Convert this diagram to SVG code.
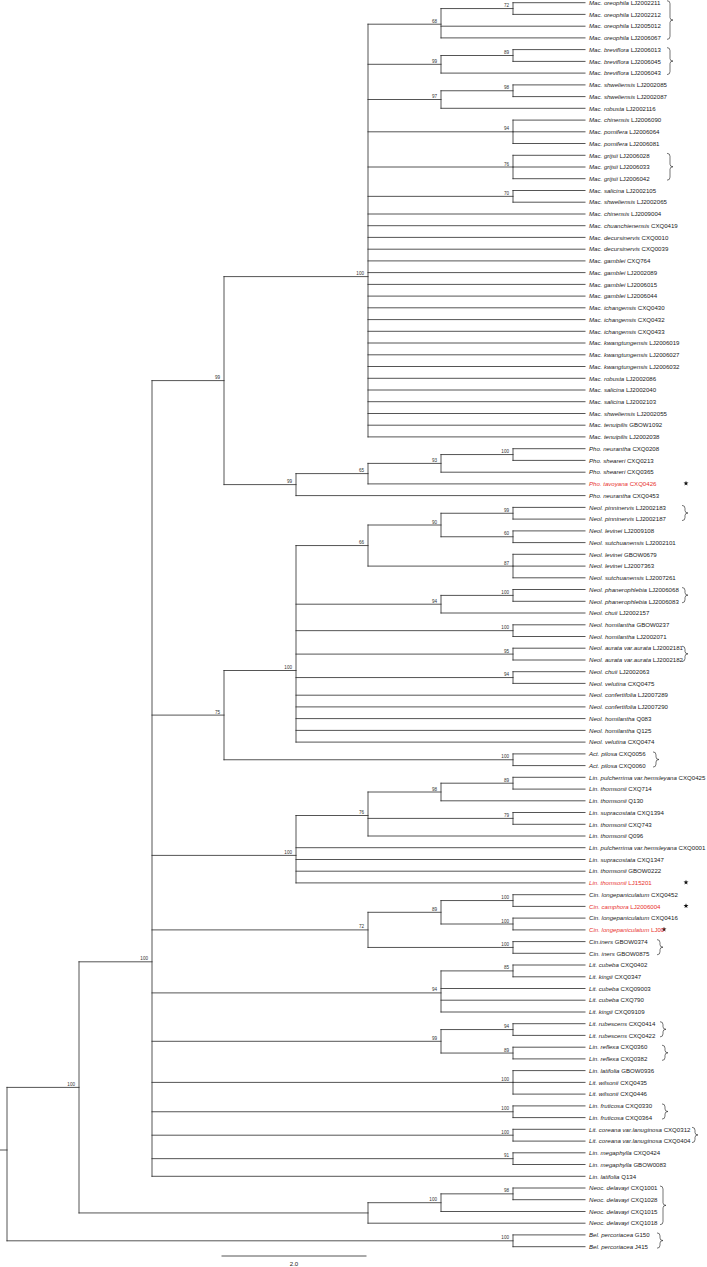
<svg xmlns="http://www.w3.org/2000/svg" xmlns:xlink="http://www.w3.org/1999/xlink" width="707" height="1267" viewBox="0 0 707 1267">
<style>
.br{fill:none;stroke:#2a2a2a;stroke-width:0.8;stroke-linecap:square}
text{font-family:"Liberation Sans",Arial,sans-serif}
.t{font-size:6.1px;fill:#1a1a1a}
.r{fill:#e8312c}
.i{font-style:italic}
.bs{font-size:4.6px;fill:#333;text-anchor:end}
.bk{fill:none;stroke:#1a1a1a;stroke-width:0.6}
.st{fill:#111}
</style>
<defs>
<polygon id="star" points="0,-2.6 0.617,-0.849 2.473,-0.803 0.999,0.324 1.528,2.103 0,1.05 -1.528,2.103 -0.999,0.324 -2.473,-0.803 -0.617,-0.849"/>
</defs>
<rect width="707" height="1267" fill="#fff"/>
<g id="connectors" class="br">
<path d="M513 2.7V14.4M513 2.7H585M513 14.4H585M441 8.55V37.9M441 8.55H513M441 26.2H585M441 37.9H585M513 49.6V61.4M513 49.6H585M513 61.4H585M441 55.5V73.1M441 55.5H513M441 73.1H585M513 84.9V96.6M513 84.9H585M513 96.6H585M441 90.75V108.3M441 90.75H513M441 108.3H585M513 120.1V143.5M513 120.1H585M513 131.8H585M513 143.5H585M513 155.3V178.7M513 155.3H585M513 167H585M513 178.7H585M513 190.5V202.2M513 190.5H585M513 202.2H585"/>
<path d="M368 24.2V436.9M368 24.2H441M368 64.3H441M368 99.5H441M368 131.8H513M368 167H513M368 196.35H513M368 214H585M368 225.7H585M368 237.4H585M368 249.2H585M368 260.9H585M368 272.6H585M368 284.4H585M368 296.1H585M368 307.8H585M368 319.6H585M368 331.3H585M368 343H585M368 354.8H585M368 366.5H585M368 378.3H585M368 390H585M368 401.7H585M368 413.5H585M368 425.2H585M368 436.9H585"/>
<path d="M513 448.7V460.4M513 448.7H585M513 460.4H585M441 454.55V472.2M441 454.55H513M441 472.2H585M368 463.4V483.9M368 463.4H441M368 483.9H585M296 473.6V495.6M296 473.6H368M296 495.6H585M224 276.6V484.6M224 276.6H368M224 484.6H296"/>
<path d="M513 507.4V519.1M513 507.4H585M513 519.1H585M513 530.9V542.6M513 530.9H585M513 542.6H585M441 513.25V536.75M441 513.25H513M441 536.75H513M513 554.3V577.8M513 554.3H585M513 566.1H585M513 577.8H585M368 525V566.1M368 525H441M368 566.1H513M513 589.5V601.3M513 589.5H585M513 601.3H585M441 595.4V613M441 595.4H513M441 613H585M513 624.8V636.5M513 624.8H585M513 636.5H585M513 648.2V660M513 648.2H585M513 660H585M513 671.7V683.4M513 671.7H585M513 683.4H585"/>
<path d="M296 545.55V742.1M296 545.55H368M296 604.2H441M296 630.65H513M296 654.1H513M296 677.55H513M296 695.2H585M296 706.9H585M296 718.6H585M296 730.4H585M296 742.1H585M513 753.9V765.6M513 753.9H585M513 765.6H585M224 670.5V759.75M224 670.5H296M224 759.75H513"/>
<path d="M513 777.3V789.1M513 777.3H585M513 789.1H585M441 783.2V800.8M441 783.2H513M441 800.8H585M513 812.5V824.3M513 812.5H585M513 824.3H585M368 792V836M368 792H441M368 818.4H513M368 836H585M296 815.5V882.9M296 815.5H368M296 847.7H585M296 859.5H585M296 871.2H585M296 882.9H585"/>
<path d="M513 894.7V906.4M513 894.7H585M513 906.4H585M513 918.1V929.9M513 918.1H585M513 929.9H585M441 900.55V924M441 900.55H513M441 924H513M513 941.6V953.3M513 941.6H585M513 953.3H585M368 912.3V947.45M368 912.3H441M368 947.45H513"/>
<path d="M513 965V976.8M513 965H585M513 976.8H585M441 970.9V1012M441 970.9H513M441 988.5H585M441 1000.2H585M441 1012H585M513 1023.7V1035.4M513 1023.7H585M513 1035.4H585M513 1047.2V1058.9M513 1047.2H585M513 1058.9H585M441 1029.55V1053.05M441 1029.55H513M441 1053.05H513M513 1070.6V1094.1M513 1070.6H585M513 1082.4H585M513 1094.1H585M513 1105.9V1117.6M513 1105.9H585M513 1117.6H585M513 1129.3V1141.1M513 1129.3H585M513 1141.1H585M513 1152.8V1164.5M513 1152.8H585M513 1164.5H585"/>
<path d="M152 380.6V1176.3M152 380.6H224M152 715.1H224M152 855.4H296M152 929.9H368M152 992.9H441M152 1041.3H441M152 1082.4H513M152 1111.75H513M152 1135.2H513M152 1158.65H513M152 1176.3H585"/>
<path d="M513 1188V1199.7M513 1188H585M513 1199.7H585M441 1193.85V1211.5M441 1193.85H513M441 1211.5H585M368 1202.7V1223.2M368 1202.7H441M368 1223.2H585M79 961.8V1212.95M79 961.8H152M79 1212.95H368M513 1234.9V1246.7M513 1234.9H585M513 1246.7H585M7 1087.4V1240.8M7 1087.4H79M7 1240.8H513M0 1150H7"/>
</g>
<g id="brackets" class="bk">
<path d="M667 0.7q3 0 3 3V17.55q0 2.5 3 2.5q-3 0-3 2.5V36.4q0 3-3 3"/>
<path d="M667 47.6q3 0 3 3V58.6q0 2.5 3 2.5q-3 0-3 2.5V71.6q0 3-3 3"/>
<path d="M667 153.3q3 0 3 3V164.25q0 2.5 3 2.5q-3 0-3 2.5V177.2q0 3-3 3"/>
<path d="M682 505.4q3 0 3 3V510.5q0 2.5 3 2.5q-3 0-3 2.5V517.6q0 3-3 3"/>
<path d="M682 587.5q3 0 3 3V592.65q0 2.5 3 2.5q-3 0-3 2.5V599.8q0 3-3 3"/>
<path d="M682 646.2q3 0 3 3V651.35q0 2.5 3 2.5q-3 0-3 2.5V658.5q0 3-3 3"/>
<path d="M653 751.9q3 0 3 3V757q0 2.5 3 2.5q-3 0-3 2.5V764.1q0 3-3 3"/>
<path d="M657 939.6q3 0 3 3V944.7q0 2.5 3 2.5q-3 0-3 2.5V951.8q0 3-3 3"/>
<path d="M660 1021.7q3 0 3 3V1026.8q0 2.5 3 2.5q-3 0-3 2.5V1033.9q0 3-3 3"/>
<path d="M662 1045.2q3 0 3 3V1050.3q0 2.5 3 2.5q-3 0-3 2.5V1057.4q0 3-3 3"/>
<path d="M662 1103.9q3 0 3 3V1109q0 2.5 3 2.5q-3 0-3 2.5V1116.1q0 3-3 3"/>
<path d="M692 1127.3q3 0 3 3V1132.45q0 2.5 3 2.5q-3 0-3 2.5V1139.6q0 3-3 3"/>
<path d="M660 1186q3 0 3 3V1202.85q0 2.5 3 2.5q-3 0-3 2.5V1221.7q0 3-3 3"/>
<path d="M657 1232.9q3 0 3 3V1238.05q0 2.5 3 2.5q-3 0-3 2.5V1245.2q0 3-3 3"/>
</g>
<g id="stars" class="st">
<use xlink:href="#star" href="#star" x="686" y="483.4"/>
<use xlink:href="#star" href="#star" x="686" y="882.4"/>
<use xlink:href="#star" href="#star" x="686" y="905.9"/>
<use xlink:href="#star" href="#star" x="664" y="929.4"/>
</g>
<g id="support">
<g id="n01"><text class="bs" x="509" y="7.05">72</text></g>
<g id="n02"><text class="bs" x="437" y="22.7">68</text></g>
<g id="n03"><text class="bs" x="509" y="54">89</text></g>
<g id="n04"><text class="bs" x="437" y="62.8">99</text></g>
<g id="n05"><text class="bs" x="509" y="89.25">98</text></g>
<g id="n06"><text class="bs" x="437" y="98">97</text></g>
<g id="n07"><text class="bs" x="509" y="130.3">94</text></g>
<g id="n08"><text class="bs" x="509" y="165.5">76</text></g>
<g id="n09"><text class="bs" x="509" y="194.85">70</text></g>
<g id="n10"><text class="bs" x="364" y="275.1">100</text></g>
<g id="n11"><text class="bs" x="509" y="453.05">100</text></g>
<g id="n12"><text class="bs" x="437" y="461.9">93</text></g>
<g id="n13"><text class="bs" x="364" y="472.1">65</text></g>
<g id="n14"><text class="bs" x="292" y="483.1">99</text></g>
<g id="n15"><text class="bs" x="220" y="379.1">99</text></g>
<g id="n16"><text class="bs" x="509" y="511.75">99</text></g>
<g id="n17"><text class="bs" x="509" y="535.25">60</text></g>
<g id="n18"><text class="bs" x="437" y="523.5">90</text></g>
<g id="n19"><text class="bs" x="509" y="564.6">87</text></g>
<g id="n20"><text class="bs" x="364" y="544.05">66</text></g>
<g id="n21"><text class="bs" x="509" y="593.9">100</text></g>
<g id="n22"><text class="bs" x="437" y="602.7">94</text></g>
<g id="n23"><text class="bs" x="509" y="629.15">100</text></g>
<g id="n24"><text class="bs" x="509" y="652.6">95</text></g>
<g id="n25"><text class="bs" x="509" y="676.05">94</text></g>
<g id="n26"><text class="bs" x="292" y="669">100</text></g>
<g id="n27"><text class="bs" x="509" y="758.25">100</text></g>
<g id="n28"><text class="bs" x="220" y="713.6">75</text></g>
<g id="n29"><text class="bs" x="509" y="781.7">89</text></g>
<g id="n30"><text class="bs" x="437" y="790.5">98</text></g>
<g id="n31"><text class="bs" x="509" y="816.9">79</text></g>
<g id="n32"><text class="bs" x="364" y="814">76</text></g>
<g id="n33"><text class="bs" x="292" y="853.9">100</text></g>
<g id="n34"><text class="bs" x="509" y="899.05">100</text></g>
<g id="n35"><text class="bs" x="509" y="922.5">100</text></g>
<g id="n36"><text class="bs" x="437" y="910.8">89</text></g>
<g id="n37"><text class="bs" x="509" y="945.95">100</text></g>
<g id="n38"><text class="bs" x="364" y="928.4">72</text></g>
<g id="n39"><text class="bs" x="509" y="969.4">85</text></g>
<g id="n40"><text class="bs" x="437" y="991.4">94</text></g>
<g id="n41"><text class="bs" x="509" y="1028.05">94</text></g>
<g id="n42"><text class="bs" x="509" y="1051.55">89</text></g>
<g id="n43"><text class="bs" x="437" y="1039.8">99</text></g>
<g id="n44"><text class="bs" x="509" y="1080.9">100</text></g>
<g id="n45"><text class="bs" x="509" y="1110.25">100</text></g>
<g id="n46"><text class="bs" x="509" y="1133.7">100</text></g>
<g id="n47"><text class="bs" x="509" y="1157.15">91</text></g>
<g id="n48"><text class="bs" x="148" y="960.3">100</text></g>
<g id="n49"><text class="bs" x="509" y="1192.35">98</text></g>
<g id="n50"><text class="bs" x="437" y="1201.2">100</text></g>
<g id="n51"><text class="bs" x="75" y="1085.9">100</text></g>
<g id="n52"><text class="bs" x="509" y="1239.3">100</text></g>
</g>
<g id="tips">
<g id="t001"><text class="t" x="589" y="4.9"><tspan class="i">Mac. oreophila</tspan> LJ2002211</text></g>
<g id="t002"><text class="t" x="589" y="16.6"><tspan class="i">Mac. oreophila</tspan> LJ2002212</text></g>
<g id="t003"><text class="t" x="589" y="28.4"><tspan class="i">Mac. oreophila</tspan> LJ2005012</text></g>
<g id="t004"><text class="t" x="589" y="40.1"><tspan class="i">Mac. oreophila</tspan> LJ2006067</text></g>
<g id="t005"><text class="t" x="589" y="51.8"><tspan class="i">Mac. breviflora</tspan> LJ2006013</text></g>
<g id="t006"><text class="t" x="589" y="63.6"><tspan class="i">Mac. breviflora</tspan> LJ2006045</text></g>
<g id="t007"><text class="t" x="589" y="75.3"><tspan class="i">Mac. breviflora</tspan> LJ2006043</text></g>
<g id="t008"><text class="t" x="589" y="87.1"><tspan class="i">Mac. shweliensis</tspan> LJ2002085</text></g>
<g id="t009"><text class="t" x="589" y="98.8"><tspan class="i">Mac. shweliensis</tspan> LJ2002087</text></g>
<g id="t010"><text class="t" x="589" y="110.5"><tspan class="i">Mac. robusta</tspan> LJ2002116</text></g>
<g id="t011"><text class="t" x="589" y="122.3"><tspan class="i">Mac. chinensis</tspan> LJ2006090</text></g>
<g id="t012"><text class="t" x="589" y="134"><tspan class="i">Mac. pomifera</tspan> LJ2006064</text></g>
<g id="t013"><text class="t" x="589" y="145.7"><tspan class="i">Mac. pomifera</tspan> LJ2006081</text></g>
<g id="t014"><text class="t" x="589" y="157.5"><tspan class="i">Mac. grijsii</tspan> LJ2006028</text></g>
<g id="t015"><text class="t" x="589" y="169.2"><tspan class="i">Mac. grijsii</tspan> LJ2006033</text></g>
<g id="t016"><text class="t" x="589" y="180.9"><tspan class="i">Mac. grijsii</tspan> LJ2006042</text></g>
<g id="t017"><text class="t" x="589" y="192.7"><tspan class="i">Mac. salicina</tspan> LJ2002105</text></g>
<g id="t018"><text class="t" x="589" y="204.4"><tspan class="i">Mac. shweliensis</tspan> LJ2002065</text></g>
<g id="t019"><text class="t" x="589" y="216.2"><tspan class="i">Mac. chinensis</tspan> LJ2009004</text></g>
<g id="t020"><text class="t" x="589" y="227.9"><tspan class="i">Mac. chuanchienensis</tspan> CXQ0419</text></g>
<g id="t021"><text class="t" x="589" y="239.6"><tspan class="i">Mac. decursinervis</tspan> CXQ0010</text></g>
<g id="t022"><text class="t" x="589" y="251.4"><tspan class="i">Mac. decursinervis</tspan> CXQ0039</text></g>
<g id="t023"><text class="t" x="589" y="263.1"><tspan class="i">Mac. gamblei</tspan> CXQ764</text></g>
<g id="t024"><text class="t" x="589" y="274.8"><tspan class="i">Mac. gamblei</tspan> LJ2002089</text></g>
<g id="t025"><text class="t" x="589" y="286.6"><tspan class="i">Mac. gamblei</tspan> LJ2006015</text></g>
<g id="t026"><text class="t" x="589" y="298.3"><tspan class="i">Mac. gamblei</tspan> LJ2006044</text></g>
<g id="t027"><text class="t" x="589" y="310"><tspan class="i">Mac. ichangensis</tspan> CXQ0430</text></g>
<g id="t028"><text class="t" x="589" y="321.8"><tspan class="i">Mac. ichangensis</tspan> CXQ0432</text></g>
<g id="t029"><text class="t" x="589" y="333.5"><tspan class="i">Mac. ichangensis</tspan> CXQ0433</text></g>
<g id="t030"><text class="t" x="589" y="345.2"><tspan class="i">Mac. kwangtungensis</tspan> LJ2006019</text></g>
<g id="t031"><text class="t" x="589" y="357"><tspan class="i">Mac. kwangtungensis</tspan> LJ2006027</text></g>
<g id="t032"><text class="t" x="589" y="368.7"><tspan class="i">Mac. kwangtungensis</tspan> LJ2006032</text></g>
<g id="t033"><text class="t" x="589" y="380.5"><tspan class="i">Mac. robusta</tspan> LJ2002086</text></g>
<g id="t034"><text class="t" x="589" y="392.2"><tspan class="i">Mac. salicina</tspan> LJ2002040</text></g>
<g id="t035"><text class="t" x="589" y="403.9"><tspan class="i">Mac. salicina</tspan> LJ2002103</text></g>
<g id="t036"><text class="t" x="589" y="415.7"><tspan class="i">Mac. shweliensis</tspan> LJ2002055</text></g>
<g id="t037"><text class="t" x="589" y="427.4"><tspan class="i">Mac. tenuipilis</tspan> GBOW1092</text></g>
<g id="t038"><text class="t" x="589" y="439.1"><tspan class="i">Mac. tenuipilis</tspan> LJ2002038</text></g>
<g id="t039"><text class="t" x="589" y="450.9"><tspan class="i">Pho. neurantha</tspan> CXQ0208</text></g>
<g id="t040"><text class="t" x="589" y="462.6"><tspan class="i">Pho. sheareri</tspan> CXQ0213</text></g>
<g id="t041"><text class="t" x="589" y="474.4"><tspan class="i">Pho. sheareri</tspan> CXQ0365</text></g>
<g id="t042"><text class="t r" x="589" y="486.1"><tspan class="i">Pho. tavoyana</tspan> CXQ0426</text></g>
<g id="t043"><text class="t" x="589" y="497.8"><tspan class="i">Pho. neurantha</tspan> CXQ0453</text></g>
<g id="t044"><text class="t" x="589" y="509.6"><tspan class="i">Neol. pinninervis</tspan> LJ2002183</text></g>
<g id="t045"><text class="t" x="589" y="521.3"><tspan class="i">Neol. pinninervis</tspan> LJ2002187</text></g>
<g id="t046"><text class="t" x="589" y="533.1"><tspan class="i">Neol. levinei</tspan> LJ2009108</text></g>
<g id="t047"><text class="t" x="589" y="544.8"><tspan class="i">Neol. sutchuanensis</tspan> LJ2002101</text></g>
<g id="t048"><text class="t" x="589" y="556.5"><tspan class="i">Neol. levinei</tspan> GBOW0679</text></g>
<g id="t049"><text class="t" x="589" y="568.3"><tspan class="i">Neol. levinei</tspan> LJ2007363</text></g>
<g id="t050"><text class="t" x="589" y="580"><tspan class="i">Neol. sutchuanensis</tspan> LJ2007261</text></g>
<g id="t051"><text class="t" x="589" y="591.7"><tspan class="i">Neol. phanerophlebia</tspan> LJ2006068</text></g>
<g id="t052"><text class="t" x="589" y="603.5"><tspan class="i">Neol. phanerophlebia</tspan> LJ2006083</text></g>
<g id="t053"><text class="t" x="589" y="615.2"><tspan class="i">Neol. chuii</tspan> LJ2002157</text></g>
<g id="t054"><text class="t" x="589" y="627"><tspan class="i">Neol. homilantha</tspan> GBOW0237</text></g>
<g id="t055"><text class="t" x="589" y="638.7"><tspan class="i">Neol. homilantha</tspan> LJ2002071</text></g>
<g id="t056"><text class="t" x="589" y="650.4"><tspan class="i">Neol. aurata var.aurata</tspan> LJ2002181</text></g>
<g id="t057"><text class="t" x="589" y="662.2"><tspan class="i">Neol. aurata var.aurata</tspan> LJ2002182</text></g>
<g id="t058"><text class="t" x="589" y="673.9"><tspan class="i">Neol. chuii</tspan> LJ2002063</text></g>
<g id="t059"><text class="t" x="589" y="685.6"><tspan class="i">Neol. velutina</tspan> CXQ0475</text></g>
<g id="t060"><text class="t" x="589" y="697.4"><tspan class="i">Neol. confertifolia</tspan> LJ2007289</text></g>
<g id="t061"><text class="t" x="589" y="709.1"><tspan class="i">Neol. confertifolia</tspan> LJ2007290</text></g>
<g id="t062"><text class="t" x="589" y="720.8"><tspan class="i">Neol. homilantha</tspan> Q083</text></g>
<g id="t063"><text class="t" x="589" y="732.6"><tspan class="i">Neol. homilantha</tspan> Q125</text></g>
<g id="t064"><text class="t" x="589" y="744.3"><tspan class="i">Neol. velutina</tspan> CXQ0474</text></g>
<g id="t065"><text class="t" x="589" y="756.1"><tspan class="i">Act. pilosa</tspan> CXQ0056</text></g>
<g id="t066"><text class="t" x="589" y="767.8"><tspan class="i">Act. pilosa</tspan> CXQ0060</text></g>
<g id="t067"><text class="t" x="589" y="779.5"><tspan class="i">Lin. pulcherrima var.hemsleyana</tspan> CXQ0425</text></g>
<g id="t068"><text class="t" x="589" y="791.3"><tspan class="i">Lin. thomsonii</tspan> CXQ714</text></g>
<g id="t069"><text class="t" x="589" y="803"><tspan class="i">Lin. thomsonii</tspan> Q130</text></g>
<g id="t070"><text class="t" x="589" y="814.7"><tspan class="i">Lin. supracostata</tspan> CXQ1394</text></g>
<g id="t071"><text class="t" x="589" y="826.5"><tspan class="i">Lin. thomsonii</tspan> CXQ743</text></g>
<g id="t072"><text class="t" x="589" y="838.2"><tspan class="i">Lin. thomsonii</tspan> Q096</text></g>
<g id="t073"><text class="t" x="589" y="849.9"><tspan class="i">Lin. pulcherrima var.hemsleyana</tspan> CXQ0001</text></g>
<g id="t074"><text class="t" x="589" y="861.7"><tspan class="i">Lin. supracostata</tspan> CXQ1347</text></g>
<g id="t075"><text class="t" x="589" y="873.4"><tspan class="i">Lin. thomsonii</tspan> GBOW0222</text></g>
<g id="t076"><text class="t r" x="589" y="885.1"><tspan class="i">Lin. thomsonii</tspan> LJ15201</text></g>
<g id="t077"><text class="t" x="589" y="896.9"><tspan class="i">Cin. longepaniculatum</tspan> CXQ0452</text></g>
<g id="t078"><text class="t r" x="589" y="908.6"><tspan class="i">Cin. camphora</tspan> LJ2006004</text></g>
<g id="t079"><text class="t" x="589" y="920.3"><tspan class="i">Cin. longepaniculatum</tspan> CXQ0416</text></g>
<g id="t080"><text class="t r" x="589" y="932.1"><tspan class="i">Cin. longepaniculatum</tspan> LJ00</text></g>
<g id="t081"><text class="t" x="589" y="943.8"><tspan class="i">Cin.iners</tspan> GBOW0374</text></g>
<g id="t082"><text class="t" x="589" y="955.5"><tspan class="i">Cin. iners</tspan> GBOW0875</text></g>
<g id="t083"><text class="t" x="589" y="967.2"><tspan class="i">Lit. cubeba</tspan> CXQ0402</text></g>
<g id="t084"><text class="t" x="589" y="979"><tspan class="i">Lit. kingii</tspan> CXQ0347</text></g>
<g id="t085"><text class="t" x="589" y="990.7"><tspan class="i">Lit. cubeba</tspan> CXQ09003</text></g>
<g id="t086"><text class="t" x="589" y="1002.4"><tspan class="i">Lit. cubeba</tspan> CXQ790</text></g>
<g id="t087"><text class="t" x="589" y="1014.2"><tspan class="i">Lit. kingii</tspan> CXQ09109</text></g>
<g id="t088"><text class="t" x="589" y="1025.9"><tspan class="i">Lit. rubescens</tspan> CXQ0414</text></g>
<g id="t089"><text class="t" x="589" y="1037.6"><tspan class="i">Lit. rubescens</tspan> CXQ0422</text></g>
<g id="t090"><text class="t" x="589" y="1049.4"><tspan class="i">Lin. reflexa</tspan> CXQ0360</text></g>
<g id="t091"><text class="t" x="589" y="1061.1"><tspan class="i">Lin. reflexa</tspan> CXQ0382</text></g>
<g id="t092"><text class="t" x="589" y="1072.8"><tspan class="i">Lin. latifolia</tspan> GBOW0936</text></g>
<g id="t093"><text class="t" x="589" y="1084.6"><tspan class="i">Lit. wilsonii</tspan> CXQ0435</text></g>
<g id="t094"><text class="t" x="589" y="1096.3"><tspan class="i">Lit. wilsonii</tspan> CXQ0446</text></g>
<g id="t095"><text class="t" x="589" y="1108.1"><tspan class="i">Lin. fruticosa</tspan> CXQ0330</text></g>
<g id="t096"><text class="t" x="589" y="1119.8"><tspan class="i">Lin. fruticosa</tspan> CXQ0364</text></g>
<g id="t097"><text class="t" x="589" y="1131.5"><tspan class="i">Lit. coreana var.lanuginosa</tspan> CXQ0312</text></g>
<g id="t098"><text class="t" x="589" y="1143.3"><tspan class="i">Lit. coreana var.lanuginosa</tspan> CXQ0404</text></g>
<g id="t099"><text class="t" x="589" y="1155"><tspan class="i">Lin. megaphylla</tspan> CXQ0424</text></g>
<g id="t100"><text class="t" x="589" y="1166.7"><tspan class="i">Lin. megaphylla</tspan> GBOW0083</text></g>
<g id="t101"><text class="t" x="589" y="1178.5"><tspan class="i">Lin. latifolia</tspan> Q134</text></g>
<g id="t102"><text class="t" x="589" y="1190.2"><tspan class="i">Neoc. delavayi</tspan> CXQ1001</text></g>
<g id="t103"><text class="t" x="589" y="1201.9"><tspan class="i">Neoc. delavayi</tspan> CXQ1028</text></g>
<g id="t104"><text class="t" x="589" y="1213.7"><tspan class="i">Neoc. delavayi</tspan> CXQ1015</text></g>
<g id="t105"><text class="t" x="589" y="1225.4"><tspan class="i">Neoc. delavayi</tspan> CXQ1018</text></g>
<g id="t106"><text class="t" x="589" y="1237.1"><tspan class="i">Bel. percoriacea</tspan> G150</text></g>
<g id="t107"><text class="t" x="589" y="1248.9"><tspan class="i">Bel. percoriacea</tspan> J415</text></g>
</g>
<g id="scalebar">
<path class="br" d="M222 1256H366"/>
<text class="t" x="294" y="1266" text-anchor="middle">2.0</text>
</g>
</svg>
